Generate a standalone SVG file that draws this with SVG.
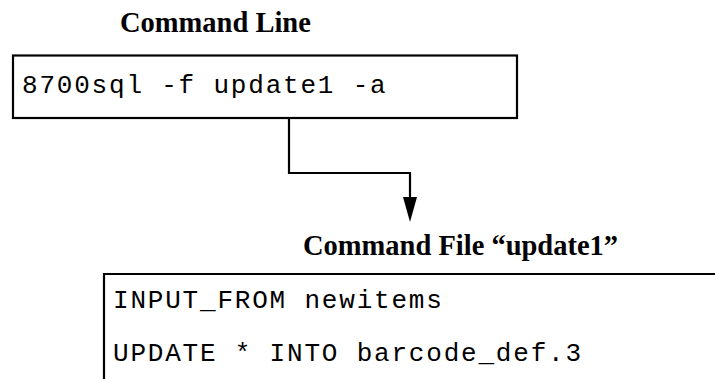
<svg xmlns="http://www.w3.org/2000/svg" width="715" height="379" viewBox="0 0 715 379">
<style>
.hd{font-family:"Liberation Serif","Times New Roman",serif;font-weight:bold;font-size:28.5px;fill:#000}
.mono{font-family:"Liberation Mono","Courier New",monospace;font-size:26px;letter-spacing:1.8px;fill:#000}
.box{fill:#fff;stroke:#000;stroke-width:2.2}
.conn{fill:none;stroke:#000;stroke-width:2.2}
</style>
<rect width="715" height="379" fill="#fff"/>
<g id="connectors">
<path class="conn" d="M289,118 V173 H410 V197"/>
<path d="M403,197 L417,197 L410,222 Z" fill="#000"/>
</g>
<g id="command-line">
<text class="hd" x="120" y="32">Command Line</text>
<rect class="box" x="13" y="55.5" width="504" height="62.5"/>
<text class="mono" x="22" y="92.5">8700sql -f update1 -a</text>
</g>
<g id="command-file">
<text class="hd" x="303" y="255">Command File “update1”</text>
<path class="conn" d="M104,379 V274 H715"/>
<text class="mono" x="113" y="307.5">INPUT_FROM newitems</text>
<text class="mono" x="113" y="360.5">UPDATE * INTO barcode_def.3</text>
</g>
</svg>
